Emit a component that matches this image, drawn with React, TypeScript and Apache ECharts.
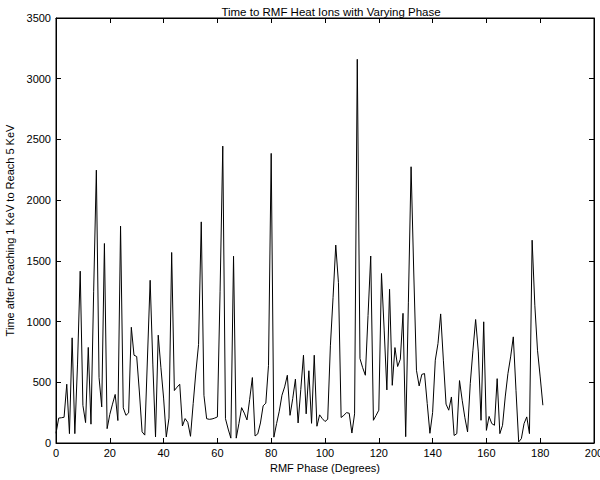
import React, { useEffect, useRef } from "react";
import * as echarts from "echarts";

const titleText = "Time to RMF Heat Ions with Varying Phase";
const xLabel = "RMF Phase (Degrees)";
const yLabel = "Time after Reaching 1 KeV to Reach 5 KeV";

// phase in degrees (0..181, step 1)
const phases: number[] = Array.from({ length: 182 }, (_, i) => i);

// time values
const times: number[] = [
  80, 205, 208, 212, 484, 77, 866, 77, 650, 1415,
  310, 168, 787, 155, 1250, 2247, 540, 297, 1643, 118,
  235, 320, 400, 185, 1786, 290, 228, 248, 953, 723,
  712, 420, 92, 65, 700, 1340, 650, 50, 888, 620,
  370, 50, 205, 1569, 432, 460, 484, 140, 201, 170,
  55, 326, 585, 812, 1821, 393, 200, 195, 198, 205,
  215, 1250, 2445, 200, 115, 40, 1538, 40, 160, 291,
  246, 190, 360, 539, 58, 75, 165, 306, 328, 640,
  2385, 48, 160, 262, 393, 462, 558, 228, 365, 526,
  165, 440, 723, 240, 595, 162, 723, 138, 232, 201,
  177, 195, 800, 1200, 1630, 1320, 210, 228, 250, 245,
  82, 240, 3160, 695, 620, 558, 1050, 1540, 187, 228,
  270, 1396, 930, 437, 1266, 475, 786, 630, 690, 1068,
  52, 1160, 2275, 1400, 599, 470, 565, 572, 325, 80,
  250, 682, 819, 1063, 682, 320, 270, 379, 62, 77,
  514, 352, 208, 91, 489, 764, 1017, 750, 187, 998,
  104, 219, 160, 146, 530, 77, 146, 379, 571, 709,
  874, 434, 9, 36, 160, 215, 77, 1670, 1135, 764,
  544, 311,
];

const xTicks = { min: 0, max: 200, interval: 20 };
const yTicks = { min: 0, max: 3500, interval: 500 };

const FONT = "'Liberation Sans', Arial, Helvetica, sans-serif";

export default function App() {
  const ref = useRef<HTMLDivElement>(null);
  useEffect(() => {
    if (!ref.current) return;
    const chart = echarts.init(ref.current, undefined, { renderer: "svg" });
    const axisCommon = {
      axisLine: { show: true, onZero: false, lineStyle: { color: "#000", width: 1 } },
      axisTick: { show: true, inside: true, length: 5, lineStyle: { color: "#000", width: 1 } },
      splitLine: { show: false },
    };
    const fmt = (v: number) => String(v);
    chart.setOption({
      animation: false,
      backgroundColor: "#fff",
      title: {
        text: titleText,
        left: 326,
        textAlign: "center",
        top: 1,
        textStyle: { fontFamily: FONT, fontSize: 11.5, fontWeight: "normal", color: "#000" },
      },
      grid: {
        left: 56,
        right: 6,
        top: 18,
        bottom: 37,
        containLabel: false,
        outerBoundsMode: "none",
        show: true,
        borderColor: "#000",
        borderWidth: 1,
        backgroundColor: "transparent",
      },
      xAxis: [
        {
          type: "value",
          ...xTicks,
          position: "bottom",
          ...axisCommon,
          axisLabel: { color: "#000", fontFamily: FONT, fontSize: 11, margin: 4, formatter: fmt },
          name: xLabel,
          nameLocation: "middle",
          nameGap: 18,
          nameTextStyle: { color: "#000", fontFamily: FONT, fontSize: 11 },
        },
        {
          type: "value",
          ...xTicks,
          position: "top",
          ...axisCommon,
          axisLabel: { show: false },
        },
      ],
      yAxis: [
        {
          type: "value",
          ...yTicks,
          position: "left",
          ...axisCommon,
          axisLabel: { color: "#000", fontFamily: FONT, fontSize: 11, margin: 5, formatter: fmt },
          name: yLabel,
          nameLocation: "middle",
          nameGap: 36,
          nameRotate: 90,
          nameTextStyle: { color: "#000", fontFamily: FONT, fontSize: 11 },
        },
        {
          type: "value",
          ...yTicks,
          position: "right",
          ...axisCommon,
          axisLabel: { show: false },
        },
      ],
      series: [
        {
          type: "line",
          xAxisIndex: 0,
          yAxisIndex: 0,
          data: phases.map((p, i) => [p, times[i]]),
          symbol: "none",
          lineStyle: { color: "#000", width: 1 },
        },
        {
          type: "line",
          xAxisIndex: 1,
          yAxisIndex: 1,
          data: [],
          symbol: "none",
          silent: true,
        },
      ],
    });
    return () => chart.dispose();
  }, []);
  return (
    <div
      ref={ref}
      style={{ position: "absolute", left: 0, top: 0, width: 600, height: 480 }}
    />
  );
}
